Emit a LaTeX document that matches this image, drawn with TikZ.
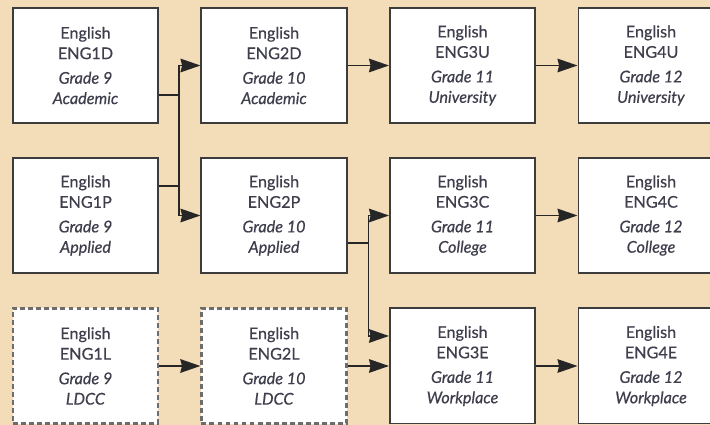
\documentclass[tikz,border=0pt]{standalone}
\usepackage{fontspec}
\setmainfont{Lato}[FakeBold=0.5]
\usetikzlibrary{arrows.meta}
\definecolor{bgtan}{HTML}{F3DCB8}
\definecolor{boxline}{HTML}{3C3C3C}
\definecolor{txtgray}{HTML}{3E3E4C}
\definecolor{arrowline}{HTML}{262626}
\begin{document}
\begin{tikzpicture}[x=0.025cm,y=-0.025cm]
    \tikzstyle{course}=[draw=boxline, line width=1.4pt, fill=white, rectangle,
        minimum width=3.625cm, minimum height=2.875cm, inner sep=0pt, align=center,
        text=txtgray, font=\fontsize{11.5}{14.5}\selectfont]
    \tikzstyle{ldcc}=[course, dashed, line width=1.6pt, dash pattern=on 3.5pt off 2.2pt, draw=boxline!75]
    \tikzstyle{line}=[draw=arrowline, line width=1.2pt]
    \tikzstyle{arrow}=[line, -{Stealth[length=0.5cm,width=0.34cm,inset=0.04cm]}]
    \useasboundingbox (0,0) rectangle (710,425);
    \fill[bgtan] (0,0) rectangle (710,425);
    \clip (0,0) rectangle (710,425);
    % grade 9
    \node[course] (eng1d) at (85.5,65.5) {English\\ENG1D\\[3pt]\textit{Grade 9}\\\textit{Academic}};
    \node[course] (eng1p) at (85.5,215.5) {English\\ENG1P\\[3pt]\textit{Grade 9}\\\textit{Applied}};
    \node[ldcc] (eng1l) at (85.5,366) {English\\ENG1L\\[3pt]\textit{Grade 9}\\\textit{LDCC}};
    % grade 10
    \node[course] (eng2d) at (274,65.5) {English\\ENG2D\\[3pt]\textit{Grade 10}\\\textit{Academic}};
    \node[course] (eng2p) at (274,215.5) {English\\ENG2P\\[3pt]\textit{Grade 10}\\\textit{Applied}};
    \node[ldcc] (eng2l) at (274,366) {English\\ENG2L\\[3pt]\textit{Grade 10}\\\textit{LDCC}};
    % grade 11
    \node[course] (eng3u) at (462.5,65.5) {English\\ENG3U\\[3pt]\textit{Grade 11}\\\textit{University}};
    \node[course] (eng3c) at (462.5,215.5) {English\\ENG3C\\[3pt]\textit{Grade 11}\\\textit{College}};
    \node[course] (eng3e) at (462.5,366) {English\\ENG3E\\[3pt]\textit{Grade 11}\\\textit{Workplace}};
    % grade 12
    \node[course] (eng4u) at (651,65.5) {English\\ENG4U\\[3pt]\textit{Grade 12}\\\textit{University}};
    \node[course] (eng4c) at (651,215.5) {English\\ENG4C\\[3pt]\textit{Grade 12}\\\textit{College}};
    \node[course] (eng4e) at (651,366) {English\\ENG4E\\[3pt]\textit{Grade 12}\\\textit{Workplace}};
    % grade 9 to grade 10
    \draw[line] ([yshift=-0.74cm]eng1d.east) -- ++(20,0) coordinate (ja);
    \draw[line] ([yshift=0.74cm]eng1p.east) -| (ja);
    \draw[arrow] (ja) |- (eng2d.west);
    \draw[arrow] (ja) |- (eng2p.west);
    \draw[arrow] (eng1l) -- (eng2l);
    % grade 10 to grade 11
    \draw[line] ([yshift=-0.69cm]eng2p.east) -- ++(21,0) coordinate (jb);
    \draw[arrow] (jb) |- (eng3c.west);
    \draw[arrow] (jb) |- ([yshift=0.75cm]eng3e.west);
    \draw[arrow] (eng2d) -- (eng3u);
    \draw[arrow] (eng2l) -- (eng3e);
    % grade 11 to grade 12
    \draw[arrow] (eng3u) -- (eng4u);
    \draw[arrow] (eng3c) -- (eng4c);
    \draw[arrow] (eng3e) -- (eng4e);
\end{tikzpicture}
\end{document}
